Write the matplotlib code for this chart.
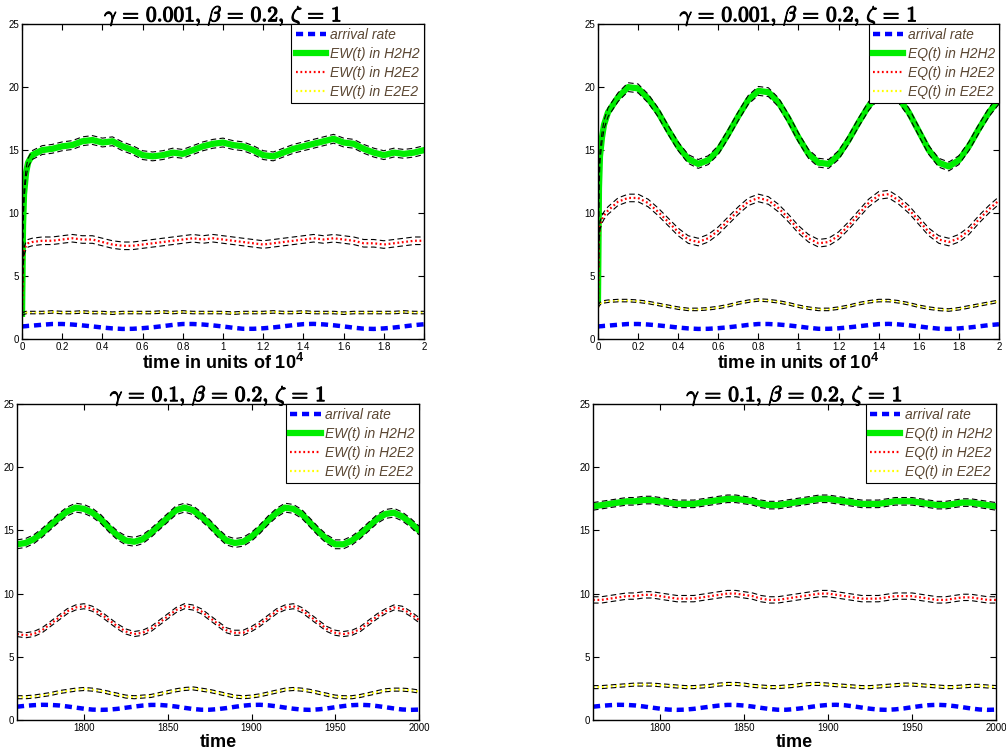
import matplotlib.pyplot as plt
import matplotlib.patheffects as pe

plt.rcParams['font.family'] = 'Liberation Sans'
plt.rcParams['mathtext.fontset'] = 'custom'
plt.rcParams['mathtext.rm'] = 'Liberation Sans'
plt.rcParams['mathtext.bf'] = 'Liberation Sans:bold'
plt.rcParams['mathtext.it'] = 'Liberation Sans:italic'

# ---- top row: gamma = 0.001, time in units of 10^4 ----
t_top = [0, 0.005, 0.01, 0.02, 0.03,
         0.05, 0.1, 0.15, 0.2, 0.25, 0.3, 0.35, 0.4, 0.45, 0.5,
         0.55, 0.6, 0.65, 0.7, 0.75, 0.8, 0.85, 0.9, 0.95, 1.0,
         1.05, 1.1, 1.15, 1.2, 1.25, 1.3, 1.35, 1.4, 1.45, 1.5,
         1.55, 1.6, 1.65, 1.7, 1.75, 1.8, 1.85, 1.9, 1.95, 2.0]

arrival_top = [1.00, 1.00, 1.01, 1.02, 1.04,
               1.06, 1.13, 1.19, 1.19, 1.15, 1.08, 1.00, 0.91, 0.84, 0.80,
               0.81, 0.86, 0.93, 1.02, 1.12, 1.19, 1.19, 1.15, 1.08, 0.99,
               0.89, 0.81, 0.81, 0.85, 0.92, 1.01, 1.10, 1.18, 1.20, 1.16,
               1.09, 1.00, 0.90, 0.82, 0.80, 0.84, 0.91, 1.00, 1.10, 1.17]

ew_h2h2_top = [2.0, 9.0, 11.5, 13.2, 14.0,
               14.6, 15.0, 15.1, 15.3, 15.4, 15.7, 15.8, 15.6, 15.7, 15.3,
               15.0, 14.6, 14.5, 14.6, 14.8, 14.7, 15.0, 15.3, 15.5, 15.6,
               15.4, 15.3, 15.0, 14.6, 14.5, 14.8, 15.1, 15.3, 15.5, 15.7,
               15.9, 15.6, 15.5, 15.1, 14.8, 14.6, 14.8, 14.7, 14.8, 15.0]
ew_h2e2_top = [2.0, 6.0, 7.0, 7.4, 7.6,
               7.7, 7.8, 7.8, 7.9, 8.0, 7.9, 7.9, 7.7, 7.5, 7.4,
               7.4, 7.5, 7.6, 7.7, 7.8, 7.9, 8.0, 7.9, 8.0, 7.9,
               7.8, 7.7, 7.6, 7.5, 7.6, 7.7, 7.8, 7.9, 8.0, 7.9,
               8.0, 7.9, 7.8, 7.6, 7.6, 7.5, 7.6, 7.7, 7.8, 7.8]
ew_e2e2_top = [1.9, 2.0, 2.05, 2.1, 2.1,
               2.1, 2.1, 2.15, 2.1, 2.1, 2.15, 2.1, 2.1, 2.05, 2.1,
               2.1, 2.1, 2.1, 2.15, 2.1, 2.15, 2.1, 2.1, 2.1, 2.1,
               2.05, 2.1, 2.1, 2.1, 2.15, 2.1, 2.1, 2.15, 2.1, 2.1,
               2.1, 2.05, 2.1, 2.1, 2.1, 2.1, 2.1, 2.15, 2.1, 2.1]

eq_h2h2_top = [3.0, 12.0, 14.5, 16.0, 17.0,
               18.0, 19.2, 20.0, 19.9, 19.1, 18.0, 16.6, 15.3, 14.3, 13.9,
               14.2, 15.0, 16.3, 17.7, 19.0, 19.7, 19.6, 18.8, 17.5, 16.0,
               14.7, 14.0, 13.9, 14.6, 15.8, 17.2, 18.5, 19.4, 19.6, 19.1,
               18.0, 16.5, 15.0, 14.0, 13.7, 14.2, 15.3, 16.7, 18.0, 19.0]
eq_h2e2_top = [2.5, 8.0, 9.0, 9.5, 9.8,
               10.2, 10.9, 11.2, 11.2, 10.8, 10.1, 9.3, 8.5, 7.9, 7.7,
               8.0, 8.6, 9.4, 10.2, 10.9, 11.2, 11.0, 10.4, 9.6, 8.7,
               8.0, 7.6, 7.7, 8.2, 9.0, 9.9, 10.8, 11.4, 11.5, 11.0,
               10.3, 9.4, 8.5, 7.9, 7.7, 8.0, 8.6, 9.5, 10.3, 11.0]
eq_e2e2_top = [2.5, 2.7, 2.8, 2.9, 2.95,
               3.0, 3.05, 3.05, 3.0, 2.9, 2.75, 2.6, 2.45, 2.35, 2.35,
               2.4, 2.5, 2.65, 2.85, 3.0, 3.1, 3.05, 2.95, 2.8, 2.6,
               2.45, 2.35, 2.35, 2.45, 2.6, 2.8, 2.95, 3.05, 3.05, 2.95,
               2.8, 2.6, 2.45, 2.35, 2.3, 2.4, 2.55, 2.7, 2.85, 3.0]

# ---- bottom row: gamma = 0.1, last part of the run ----
t_bot = list(range(1760, 2001, 5))

arrival_bot = [1.05, 1.12, 1.17, 1.20, 1.19, 1.15, 1.07, 0.98, 0.89, 0.82,
               0.80, 0.82, 0.88, 0.97, 1.06, 1.14, 1.19, 1.19, 1.14, 1.06,
               0.96, 0.87, 0.81, 0.81, 0.86, 0.94, 1.04, 1.13, 1.19, 1.20,
               1.16, 1.08, 0.98, 0.89, 0.82, 0.80, 0.84, 0.91, 1.01, 1.10,
               1.17, 1.20, 1.17, 1.10, 1.01, 0.91, 0.83, 0.80, 0.82]

ew_h2h2_bot = [13.9, 14.0, 14.3, 14.8, 15.4, 16.0, 16.5, 16.8, 16.7, 16.4,
               15.9, 15.2, 14.6, 14.2, 14.1, 14.3, 14.8, 15.4, 16.0, 16.6,
               16.8, 16.6, 16.1, 15.5, 14.8, 14.2, 14.0, 14.1, 14.5, 15.1,
               15.8, 16.4, 16.8, 16.7, 16.3, 15.6, 14.9, 14.3, 13.9, 13.9,
               14.2, 14.7, 15.3, 15.9, 16.3, 16.4, 16.1, 15.6, 15.0]
ew_h2e2_bot = [6.8, 6.7, 6.8, 7.1, 7.6, 8.1, 8.6, 8.9, 9.0, 8.8,
               8.4, 7.9, 7.4, 7.0, 6.8, 6.9, 7.2, 7.7, 8.2, 8.7,
               9.0, 8.9, 8.6, 8.1, 7.6, 7.1, 6.9, 6.9, 7.2, 7.6,
               8.1, 8.6, 8.9, 9.0, 8.7, 8.2, 7.7, 7.2, 6.9, 6.8,
               6.9, 7.2, 7.7, 8.2, 8.6, 8.9, 8.8, 8.4, 7.9]
ew_e2e2_bot = [1.8, 1.8, 1.85, 1.95, 2.05, 2.2, 2.3, 2.4, 2.45, 2.4,
               2.3, 2.15, 2.0, 1.85, 1.8, 1.85, 1.9, 2.05, 2.2, 2.35,
               2.45, 2.5, 2.4, 2.3, 2.15, 2.0, 1.85, 1.8, 1.85, 1.95,
               2.1, 2.25, 2.4, 2.45, 2.4, 2.3, 2.15, 2.0, 1.85, 1.8,
               1.8, 1.9, 2.05, 2.2, 2.35, 2.4, 2.4, 2.35, 2.25]

eq_h2h2_bot = [16.9, 17.0, 17.1, 17.2, 17.3, 17.3, 17.4, 17.4, 17.3, 17.2,
               17.1, 17.1, 17.1, 17.2, 17.3, 17.4, 17.5, 17.5, 17.4, 17.3,
               17.1, 17.0, 17.0, 17.1, 17.2, 17.3, 17.4, 17.5, 17.5, 17.4,
               17.3, 17.2, 17.1, 17.1, 17.1, 17.2, 17.3, 17.3, 17.3, 17.2,
               17.1, 17.0, 17.0, 17.1, 17.2, 17.2, 17.1, 17.0, 16.9]
eq_h2e2_bot = [9.5, 9.5, 9.6, 9.7, 9.8, 9.8, 9.9, 9.9, 9.8, 9.7,
               9.6, 9.6, 9.6, 9.7, 9.8, 9.9, 10.0, 10.0, 9.9, 9.8,
               9.6, 9.5, 9.5, 9.6, 9.7, 9.8, 9.9, 10.0, 10.0, 9.9,
               9.8, 9.7, 9.6, 9.6, 9.6, 9.7, 9.8, 9.8, 9.8, 9.7,
               9.6, 9.5, 9.5, 9.6, 9.7, 9.7, 9.6, 9.5, 9.5]
eq_e2e2_bot = [2.6, 2.6, 2.65, 2.7, 2.75, 2.8, 2.8, 2.8, 2.75, 2.7,
               2.65, 2.6, 2.6, 2.65, 2.7, 2.8, 2.85, 2.85, 2.8, 2.7,
               2.65, 2.6, 2.6, 2.65, 2.7, 2.8, 2.85, 2.85, 2.8, 2.75,
               2.7, 2.65, 2.6, 2.6, 2.65, 2.7, 2.75, 2.8, 2.8, 2.75,
               2.7, 2.65, 2.6, 2.6, 2.65, 2.7, 2.7, 2.65, 2.6]

# half widths of the black dashed bands (h2h2, h2e2, e2e2)
band_tl = [0.35, 0.3, 0.1]
band_tr = [0.35, 0.3, 0.1]
band_bl = [0.35, 0.2, 0.12]
band_br = [0.3, 0.25, 0.12]

title_top = r'$\gamma\, =\, \mathbf{0.001},\, \beta\, =\, \mathbf{0.2},\, \zeta\, =\, \mathbf{1}$'
title_bot = r'$\gamma\, =\, \mathbf{0.1},\, \beta\, =\, \mathbf{0.2},\, \zeta\, =\, \mathbf{1}$'


def panel(ax, t, arrival, h2h2, h2e2, e2e2, band, key, title):
    ax.plot(t, arrival, color='blue', lw=3.2, ls=(0, (1.6, 1.1)),
            label='arrival rate')
    ax.plot(t, h2h2, color='#00ee00', lw=4.5, label=key + '(t) in H2H2')
    ax.plot(t, h2e2, color='red', lw=1.6, ls=(0, (0.8, 1.2)),
            label=key + '(t) in H2E2')
    ax.plot(t, e2e2, color='yellow', lw=1.6, ls=(0, (0.8, 1.2)),
            label=key + '(t) in E2E2')
    for series, w in zip([h2h2, h2e2, e2e2], band):
        for sign in (-1, 1):
            ax.plot(t, [v + sign * w for v in series], color='black',
                    lw=0.8, ls=(0, (5, 3)), zorder=3)

    ax.set_ylim(0, 25)
    ax.set_yticks([0, 5, 10, 15, 20, 25])
    ax.tick_params(direction='in', top=True, right=True, length=4,
                   width=0.8, labelsize=7, pad=2)
    for s in ax.spines.values():
        s.set_linewidth(1.0)
    leg = ax.legend(loc='upper right', borderaxespad=0, fancybox=False,
                    framealpha=1, edgecolor='black', handlelength=2.2,
                    handletextpad=0.3, labelspacing=0.36, borderpad=0.3,
                    labelcolor='#5a4632',
                    prop={'style': 'italic', 'size': 10})
    leg.get_frame().set_linewidth(0.8)
    leg.set_zorder(5)
    ttl = ax.set_title(title, fontsize=15.5, pad=2, math_fontfamily='cm')
    ttl.set_path_effects([pe.withStroke(linewidth=0.8, foreground='black')])


fig = plt.figure(figsize=(10.06, 7.55), dpi=100)
ax_tl = fig.add_axes([0.0219, 0.551, 0.3996, 0.417])
ax_tr = fig.add_axes([0.5944, 0.551, 0.3986, 0.417])
ax_bl = fig.add_axes([0.0169, 0.0464, 0.3996, 0.4185])
ax_br = fig.add_axes([0.5895, 0.0464, 0.4006, 0.4185])

panel(ax_tl, t_top, arrival_top, ew_h2h2_top, ew_h2e2_top, ew_e2e2_top,
      band_tl, 'EW', title_top)
panel(ax_tr, t_top, arrival_top, eq_h2h2_top, eq_h2e2_top, eq_e2e2_top,
      band_tr, 'EQ', title_top)
panel(ax_bl, t_bot, arrival_bot, ew_h2h2_bot, ew_h2e2_bot, ew_e2e2_bot,
      band_bl, 'EW', title_bot)
panel(ax_br, t_bot, arrival_bot, eq_h2h2_bot, eq_h2e2_bot, eq_e2e2_bot,
      band_br, 'EQ', title_bot)

top_ticks = [0, 0.2, 0.4, 0.6, 0.8, 1, 1.2, 1.4, 1.6, 1.8, 2]
for ax in (ax_tl, ax_tr):
    ax.set_xlim(0, 2)
    ax.set_xticks(top_ticks)
    ax.set_xticklabels([str(v) for v in top_ticks])
    ax.set_xlabel(r'time in units of $\mathbf{10^4}$', fontsize=13,
                  fontweight='bold', labelpad=1)
for ax in (ax_bl, ax_br):
    ax.set_xlim(1760, 2000)
    ax.set_xticks([1800, 1850, 1900, 1950, 2000])
    ax.set_xlabel('time', fontsize=13, fontweight='bold', labelpad=1)

fig.savefig('out.png', dpi=100)
